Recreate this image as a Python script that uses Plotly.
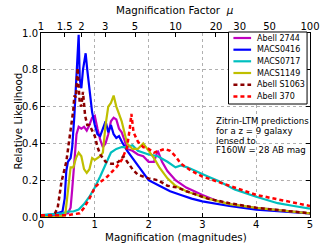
import numpy as np
import plotly.graph_objects as go

# ---------------- data ----------------
m_a2744 = [0, 0.3, 0.5, 0.55, 0.58, 0.6, 0.62, 0.66, 0.7, 0.75, 0.8, 0.85, 0.9, 0.95, 1.0, 1.05, 1.1, 1.15, 1.2,
           1.25, 1.3, 1.35, 1.4, 1.45, 1.5, 1.55, 1.6, 1.7, 1.8, 1.9, 2.0, 2.1, 2.17, 2.25, 2.35, 2.5, 2.7, 3.0,
           3.25, 3.5, 4.0, 4.5, 5.0]
v_a2744 = [0.01, 0.01, 0.02, 0.05, 0.15, 0.25, 0.3, 0.45, 0.49, 0.48, 0.49, 0.47, 0.5, 0.54, 0.55, 0.48, 0.42,
           0.38, 0.40, 0.45, 0.52, 0.54, 0.53, 0.48, 0.46, 0.42, 0.37, 0.36, 0.34, 0.33, 0.30, 0.30, 0.36, 0.30,
           0.25, 0.20, 0.16, 0.12, 0.09, 0.07, 0.05, 0.035, 0.02]

m_m0416 = [0, 0.1, 0.2, 0.3, 0.4, 0.44, 0.47, 0.5, 0.55, 0.58, 0.62, 0.66, 0.70, 0.72, 0.75, 0.78, 0.83, 0.86,
           0.9, 0.95, 1.0, 1.05, 1.1, 1.15, 1.2, 1.25, 1.3, 1.35, 1.4, 1.45, 1.5, 1.6, 1.7, 1.8, 1.9, 2.0, 2.2,
           2.4, 2.6, 2.8, 3.0, 3.2, 3.5, 4.0, 4.5, 5.0]
v_m0416 = [0.01, 0.01, 0.015, 0.02, 0.03, 0.1, 0.25, 0.3, 0.32, 0.38, 0.55, 0.77, 0.99, 0.75, 0.7, 0.8, 0.89,
           0.8, 0.68, 0.57, 0.5, 0.45, 0.44, 0.48, 0.52, 0.46, 0.5, 0.45, 0.43, 0.44, 0.41, 0.36, 0.32, 0.28,
           0.24, 0.20, 0.17, 0.14, 0.12, 0.10, 0.085, 0.075, 0.06, 0.04, 0.03, 0.02]

m_m0717 = [0, 0.2, 0.4, 0.5, 0.6, 0.7, 0.8, 0.9, 1.0, 1.1, 1.2, 1.3, 1.4, 1.5, 1.6, 1.7, 1.8, 1.9, 2.0, 2.17,
           2.35, 2.5, 2.6, 2.72, 2.9, 3.1, 3.3, 3.6, 4.0, 4.4, 4.7, 5.0]
v_m0717 = [0.01, 0.015, 0.02, 0.03, 0.03, 0.04, 0.07, 0.11, 0.16, 0.22, 0.29, 0.35, 0.37, 0.38, 0.38, 0.39, 0.36,
           0.35, 0.34, 0.33, 0.30, 0.27, 0.28, 0.27, 0.245, 0.22, 0.195, 0.15, 0.11, 0.075, 0.06, 0.045]

m_m1149 = [0, 0.3, 0.45, 0.5, 0.55, 0.6, 0.65, 0.7, 0.75, 0.8, 0.85, 0.9, 0.95, 1.0, 1.05, 1.1, 1.15, 1.2, 1.25,
           1.3, 1.35, 1.4, 1.45, 1.5, 1.55, 1.6, 1.7, 1.8, 1.9, 2.0, 2.1, 2.2, 2.35, 2.5, 2.7, 2.9, 3.1, 3.5,
           4.0, 4.5, 5.0]
v_m1149 = [0.0, 0.0, 0.01, 0.15, 0.27, 0.27, 0.32, 0.35, 0.33, 0.26, 0.24, 0.26, 0.32, 0.31, 0.32, 0.33, 0.35,
           0.5, 0.6, 0.62, 0.66, 0.6, 0.56, 0.52, 0.46, 0.40, 0.37, 0.37, 0.40, 0.36, 0.32, 0.27, 0.21, 0.17,
           0.14, 0.12, 0.10, 0.07, 0.05, 0.035, 0.02]

m_s1063 = [0, 0.2, 0.26, 0.31, 0.35, 0.38, 0.47, 0.52, 0.56, 0.6, 0.62, 0.65, 0.68, 0.72, 0.75, 0.78, 0.82, 0.86,
           0.9, 0.95, 1.0, 1.05, 1.1, 1.2, 1.3, 1.38, 1.44, 1.53, 1.62, 1.7, 1.8, 2.0, 2.17, 2.35, 2.54, 2.7,
           2.9, 3.1, 3.5, 4.0, 4.5, 5.0]
v_s1063 = [0.01, 0.01, 0.02, 0.05, 0.13, 0.19, 0.3, 0.4, 0.48, 0.58, 0.66, 0.65, 0.81, 0.62, 0.6, 0.68, 0.55,
           0.5, 0.5, 0.47, 0.44, 0.38, 0.34, 0.30, 0.29, 0.29, 0.30, 0.33, 0.29, 0.26, 0.23, 0.21, 0.20, 0.17,
           0.16, 0.14, 0.12, 0.10, 0.075, 0.05, 0.035, 0.02]

m_a370 = [0, 0.3, 0.5, 0.6, 0.72, 0.8, 0.9, 1.0, 1.1, 1.2, 1.3, 1.4, 1.5, 1.6, 1.65, 1.68, 1.72, 1.8, 1.9, 2.0,
          2.1, 2.2, 2.3, 2.4, 2.5, 2.6, 2.8, 3.0, 3.3, 3.6, 4.0, 4.5, 5.0]
v_a370 = [0.01, 0.01, 0.01, 0.015, 0.02, 0.05, 0.1, 0.16, 0.19, 0.21, 0.24, 0.27, 0.31, 0.38, 0.48, 0.56,
          0.46, 0.41, 0.38, 0.37, 0.35, 0.36, 0.37, 0.36, 0.33, 0.29, 0.25, 0.22, 0.19, 0.16, 0.12, 0.09, 0.06]

names = ["Abell 2744", "MACS0416", "MACS0717", "MACS1149", "Abell S1063", "Abell 370"]
mags = [m_a2744, m_m0416, m_m0717, m_m1149, m_s1063, m_a370]
vals = [v_a2744, v_m0416, v_m0717, v_m1149, v_s1063, v_a370]
colors = ["#bf00bf", "#0000ff", "#00bfbf", "#bfbf00", "#8b0000", "#ff0000"]
dashes = ["solid", "solid", "solid", "solid", "4px,3px", "4px,3px"]

mu_ticks = [1, 1.5, 2, 3, 5, 10, 20, 30, 50, 100]
mu_labels = ["1", "1.5", "2", "3", "5", "10", "20", "30", "50", "100"]
x_ticks = [0, 1, 2, 3, 4, 5]
y_ticks = [0.0, 0.2, 0.4, 0.6, 0.8, 1.0]

note_lines = ["Zitrin-LTM predictions", "for a z = 9 galaxy", "lensed to", "F160W = 28 AB mag"]
x_title = "Magnification (magnitudes)"
x2_title = "Magnification Factor  <i>μ</i>"
y_title = "Relative Likelihood"

FONT = "DejaVu Sans"

fig = go.Figure()
for nm, mx, vy, c, d in zip(names, mags, vals, colors, dashes):
    fig.add_trace(go.Scatter(x=mx, y=vy, mode="lines", name=nm,
                             line=dict(color=c, width=2.2 if d == "solid" else 2.5, dash=d),
                             showlegend=False))
# carrier trace for the top (magnification factor) axis
fig.add_trace(go.Scatter(x=[0, 5], y=[None, None], xaxis="x2", yaxis="y", showlegend=False,
                         hoverinfo="skip", mode="lines"))

W, H = 332, 249
L, R, T, B = 41, 17, 33, 32
pw, ph = W - L - R, H - T - B


def px2paper(px, py):
    return (px - L) / pw, (H - B - py) / ph


shapes = []
annotations = []
# legend box
bx0, by0 = px2paper(232, 104)
bx1, by1 = px2paper(312, 32)
shapes.append(dict(type="rect", xref="paper", yref="paper", x0=bx0, y0=by0, x1=bx1, y1=by1,
                   line=dict(color="black", width=1), fillcolor="white", layer="above"))
rows = [38, 49.7, 61.3, 73, 84.7, 96.5]
for nm, c, d, ry in zip(names, colors, dashes, rows):
    lx0, ly = px2paper(237, ry)
    lx1, _ = px2paper(255, ry)
    shapes.append(dict(type="line", xref="paper", yref="paper", x0=lx0, x1=lx1, y0=ly, y1=ly,
                       line=dict(color=c, width=2.2 if d == "solid" else 2.5, dash=d), layer="above"))
    tx, _ = px2paper(260, ry)
    annotations.append(dict(xref="paper", yref="paper", x=tx, y=ly, text=nm, showarrow=False,
                            xanchor="left", yanchor="middle", xshift=-1,
                            font=dict(family=FONT, size=8, color="black")))

for i, line in enumerate(note_lines):
    ax, ay = px2paper(218, 121 + 9.8 * i)
    annotations.append(dict(xref="paper", yref="paper", x=ax, y=ay, xanchor="left", yanchor="middle",
                            showarrow=False, text=line, xshift=-1,
                            font=dict(family=FONT, size=8.6, color="black")))

# axis titles
tx_, ty_ = px2paper(178, 236.5)
annotations.append(dict(xref="paper", yref="paper", x=tx_, y=ty_, text=x_title, showarrow=False,
                        xanchor="center", yanchor="middle", font=dict(family=FONT, size=10.3, color="black")))
tx_, ty_ = px2paper(177, 10)
annotations.append(dict(xref="paper", yref="paper", x=tx_, y=ty_, text=x2_title, showarrow=False,
                        xanchor="center", yanchor="middle", font=dict(family=FONT, size=10.3, color="black")))
tx_, ty_ = px2paper(18, 121)
annotations.append(dict(xref="paper", yref="paper", x=tx_, y=ty_, text=y_title, showarrow=False, textangle=-90,
                        xanchor="center", yanchor="middle", font=dict(family=FONT, size=10.3, color="black")))

axis_common = dict(ticks="inside", ticklen=4, tickwidth=1, tickcolor="black",
                   tickfont=dict(family=FONT, size=10, color="black"))

fig.update_layout(
    width=W, height=H, margin=dict(l=L, r=R, t=T, b=B),
    paper_bgcolor="white", plot_bgcolor="white",
    font=dict(family=FONT, color="black"),
    shapes=shapes, annotations=annotations,
    xaxis=dict(range=[0, 5], tickvals=x_ticks, ticktext=[str(t) for t in x_ticks],
               showline=True, linecolor="black", linewidth=1, mirror=True, ticklabelstandoff=-2,
               showgrid=True, gridcolor="#b0b0b0", griddash="dot", gridwidth=1, zeroline=False,
               **axis_common),
    xaxis2=dict(range=[0, 5], overlaying="x", side="top",
                tickvals=[2.5 * np.log10(mu) for mu in mu_ticks], ticktext=mu_labels,
                showline=False, showgrid=False, zeroline=False,
                **axis_common),
    yaxis=dict(range=[0, 1.0], tickvals=y_ticks, ticktext=[f"{t:.1f}" for t in y_ticks],
               showline=True, linecolor="black", linewidth=1, mirror="ticks",
               showgrid=True, gridcolor="#b0b0b0", griddash="dot", gridwidth=1, zeroline=False,
               **axis_common),
)

fig.write_html("out.html", config={"displayModeBar": False},
               post_script="document.body.style.margin='0px';document.body.style.overflow='hidden';")
